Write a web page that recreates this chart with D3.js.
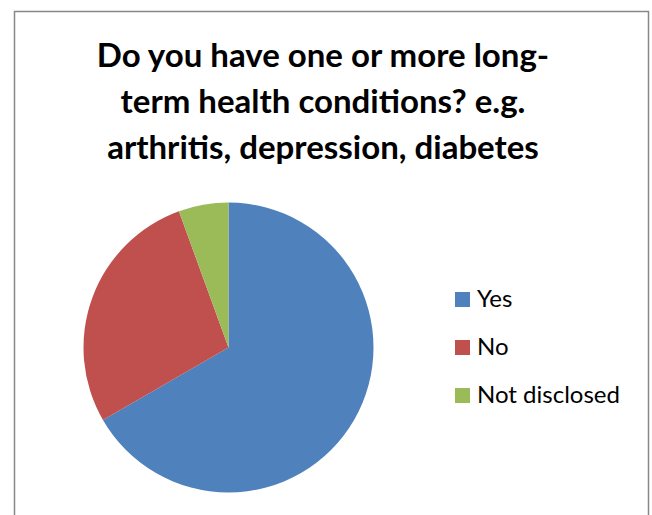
<!DOCTYPE html>
<html>
<head>
<meta charset="utf-8">
<script src="https://cdn.jsdelivr.net/npm/d3@7"></script>
<style>
  html, body { margin: 0; padding: 0; background: #fff; }
  svg { display: block; }
</style>
</head>
<body>
<svg id="chart" width="652" height="515"></svg>
<script>
// =========================
// DATI
// =========================
const categories = ["Yes", "No", "Not disclosed"];
const values = [36, 15, 3];
const colors = ["#4F81BD", "#C0504D", "#9BBB59"];
const titleLines = [
  "Do you have one or more long-",
  "term health conditions? e.g.",
  "arthritis, depression, diabetes"
];

const svg = d3.select("#chart");

// cornice del grafico
svg.append("rect")
  .attr("x", 14.5).attr("y", 11.5)
  .attr("width", 634).attr("height", 520)
  .attr("fill", "#fff")
  .attr("stroke", "#888")
  .attr("stroke-width", 1.5);

// =========================
// TITOLO
// =========================
const title = svg.append("g")
  .attr("font-family", "Lato, 'Open Sans', sans-serif")
  .attr("font-weight", "bold")
  .attr("font-size", 33)
  .attr("text-anchor", "middle")
  .attr("fill", "#000");

titleLines.forEach((line, i) => {
  title.append("text")
    .attr("x", 323)
    .attr("y", 67 + i * 46)
    .text(line);
});

// =========================
// TORTA
// =========================
const cx = 228.5, cy = 347.5, radius = 145;

const pie = d3.pie().sort(null).value(d => d);
const arc = d3.arc().innerRadius(0).outerRadius(radius);

svg.append("g")
  .attr("transform", `translate(${cx},${cy})`)
  .selectAll("path")
  .data(pie(values))
  .join("path")
  .attr("d", arc)
  .attr("fill", (d, i) => colors[i]);

// =========================
// LEGENDA
// =========================
const legendY = d3.scalePoint()
  .domain(categories)
  .range([299, 395]);

const legend = svg.append("g")
  .attr("font-family", "Lato, 'Open Sans', sans-serif")
  .attr("font-size", 24)
  .attr("fill", "#000");

const item = legend.selectAll("g")
  .data(categories)
  .join("g")
  .attr("transform", d => `translate(455,${legendY(d)})`);

item.append("rect")
  .attr("x", 0).attr("y", -7)
  .attr("width", 15).attr("height", 15)
  .attr("fill", (d, i) => colors[i]);

item.append("text")
  .attr("x", 22)
  .attr("y", 8)
  .text(d => d);
</script>
</body>
</html>
